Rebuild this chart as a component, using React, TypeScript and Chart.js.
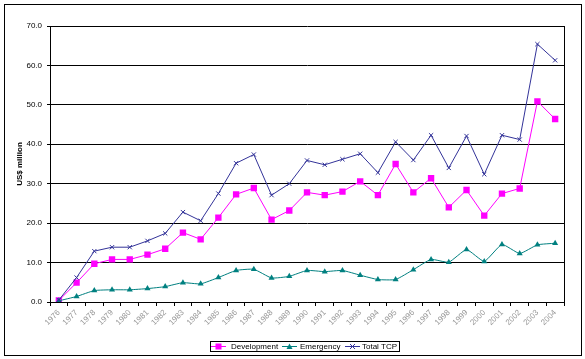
import React, { useEffect, useRef } from 'react';
import { Chart, registerables } from 'chart.js';
Chart.register(...registerables);

const years = ['1976','1977','1978','1979','1980','1981','1982','1983','1984','1985','1986','1987','1988','1989','1990','1991','1992','1993','1994','1995','1996','1997','1998','1999','2000','2001','2002','2003','2004'];
const development = [0.4, 4.9, 9.7, 10.8, 10.8, 12.0, 13.5, 17.6, 15.9, 21.4, 27.3, 28.9, 20.9, 23.2, 27.8, 27.1, 28.0, 30.6, 27.1, 35.0, 27.8, 31.4, 24.0, 28.4, 21.9, 27.5, 28.8, 50.9, 46.4];
const emergency = [0.3, 1.4, 2.9, 3.1, 3.1, 3.4, 3.9, 4.9, 4.6, 6.2, 8.0, 8.3, 6.1, 6.5, 8.0, 7.7, 8.0, 6.8, 5.7, 5.7, 8.2, 10.8, 10.1, 13.3, 10.3, 14.6, 12.3, 14.5, 14.9];
const totalTCP = [0.5, 6.2, 12.9, 13.9, 13.9, 15.5, 17.4, 22.8, 20.6, 27.5, 35.2, 37.4, 27.1, 30.0, 35.9, 34.8, 36.2, 37.6, 32.8, 40.6, 36.0, 42.3, 34.0, 42.1, 32.4, 42.3, 41.2, 65.4, 61.3];
const seriesNames = ['Development', 'Emergency', 'Total TCP'];
const yTitle = 'US$ million';
const yMin = 0;
const yMax = 70;
const yStep = 10;

const COLORS = { dev: '#FF00FF', emg: '#008080', tcp: '#333399' };
const FONT = "'Liberation Sans', Arial, sans-serif";

const decor = {
  id: 'decor',
  beforeDraw(chart: any) {
    const { ctx, width, height } = chart;
    ctx.save();
    ctx.fillStyle = '#fff';
    ctx.fillRect(0, 0, width, height);
    ctx.restore();
  },
  afterDraw(chart: any) {
    const { ctx, chartArea } = chart;
    ctx.save();
    ctx.strokeStyle = '#000';
    ctx.lineWidth = 1;
    ctx.strokeRect(4.5, 4.5, 577, 351);
    const r = Math.round(chartArea.right) + 0.5;
    ctx.beginPath();
    ctx.moveTo(r, Math.round(chartArea.top));
    ctx.lineTo(r, Math.round(chartArea.bottom) + 1);
    ctx.stroke();
    ctx.save();
    ctx.translate(20, (chartArea.top + chartArea.bottom) / 2);
    ctx.rotate(-Math.PI / 2);
    ctx.fillStyle = '#000';
    ctx.font = `bold 8px ${FONT}`;
    ctx.textAlign = 'center';
    ctx.textBaseline = 'middle';
    ctx.fillText(yTitle, 0, 0);
    ctx.restore();
    ctx.strokeRect(210.5, 341.5, 189, 10);
    const cy = 346.5;
    const items = [
      { name: seriesNames[0], color: COLORS.dev, x: 211, tx: 231, m: 'rect' },
      { name: seriesNames[1], color: COLORS.emg, x: 282, tx: 300, m: 'tri' },
      { name: seriesNames[2], color: COLORS.tcp, x: 345, tx: 362, m: 'x' },
    ];
    ctx.font = `8px ${FONT}`;
    ctx.textBaseline = 'middle';
    ctx.textAlign = 'left';
    for (const it of items) {
      ctx.strokeStyle = it.color;
      ctx.fillStyle = it.color;
      ctx.lineWidth = 1;
      ctx.beginPath();
      ctx.moveTo(it.x, cy);
      ctx.lineTo(it.x + 15, cy);
      ctx.stroke();
      const mx = it.x + 7.5;
      if (it.m === 'rect') {
        ctx.fillRect(mx - 3, cy - 3, 6, 6);
      } else if (it.m === 'tri') {
        ctx.beginPath();
        ctx.moveTo(mx, cy - 3);
        ctx.lineTo(mx + 3, cy + 2.5);
        ctx.lineTo(mx - 3, cy + 2.5);
        ctx.closePath();
        ctx.fill();
      } else {
        ctx.beginPath();
        ctx.moveTo(mx - 2.5, cy - 2.5);
        ctx.lineTo(mx + 2.5, cy + 2.5);
        ctx.moveTo(mx + 2.5, cy - 2.5);
        ctx.lineTo(mx - 2.5, cy + 2.5);
        ctx.stroke();
      }
      ctx.fillStyle = '#000';
      ctx.fillText(it.name, it.tx, cy + 0.5);
    }
    ctx.restore();
  },
};

export default function App() {
  const ref = useRef<HTMLCanvasElement>(null);
  useEffect(() => {
    document.body.style.margin = '0';
    const chart = new Chart(ref.current as HTMLCanvasElement, {
      type: 'line',
      data: {
        labels: years,
        datasets: [
          {
            label: seriesNames[0], data: development, borderColor: COLORS.dev, backgroundColor: COLORS.dev,
            borderWidth: 1, pointStyle: 'rect', pointRadius: 4.5, pointBorderWidth: 0, order: 3, tension: 0,
          },
          {
            label: seriesNames[1], data: emergency, borderColor: COLORS.emg, backgroundColor: COLORS.emg,
            borderWidth: 1, pointStyle: 'triangle', pointRadius: 3.5, pointBorderWidth: 0, order: 2, tension: 0.15,
          },
          {
            label: seriesNames[2], data: totalTCP, borderColor: COLORS.tcp, backgroundColor: COLORS.tcp,
            borderWidth: 1, pointStyle: 'crossRot', pointRadius: 3, pointBorderWidth: 1, order: 1, tension: 0,
          },
        ],
      },
      options: {
        animation: false,
        responsive: false,
        devicePixelRatio: 1,
        layout: { padding: { top: 26, right: 21, left: 0, bottom: 0 } },
        plugins: { legend: { display: false }, tooltip: { enabled: false } },
        scales: {
          x: {
            type: 'category',
            offset: true,
            grid: { display: true, drawOnChartArea: false, drawTicks: true, tickLength: 4, color: '#000', offset: true },
            border: { display: true, color: '#000' },
            ticks: {
              autoSkip: false, minRotation: 45, maxRotation: 45, padding: 2,
              color: '#999', font: { family: FONT, size: 8 },
            },
            afterFit(scale: any) { scale.height = 57; },
          },
          y: {
            min: yMin, max: yMax,
            grid: { color: '#000', drawTicks: true, tickLength: 3, lineWidth: 1 },
            border: { display: true, color: '#000' },
            ticks: {
              stepSize: yStep, padding: 5, color: '#000', font: { family: FONT, size: 8 },
              callback: (v: any) => Number(v).toFixed(1),
            },
            afterFit(scale: any) { scale.width = 50; },
          },
        },
      },
      plugins: [decor],
    });
    return () => chart.destroy();
  }, []);
  return (
    <div style={{ position: 'absolute', left: 0, top: 0, width: 585, height: 359 }}>
      <canvas ref={ref} width={585} height={359} style={{ display: 'block' }} />
    </div>
  );
}
